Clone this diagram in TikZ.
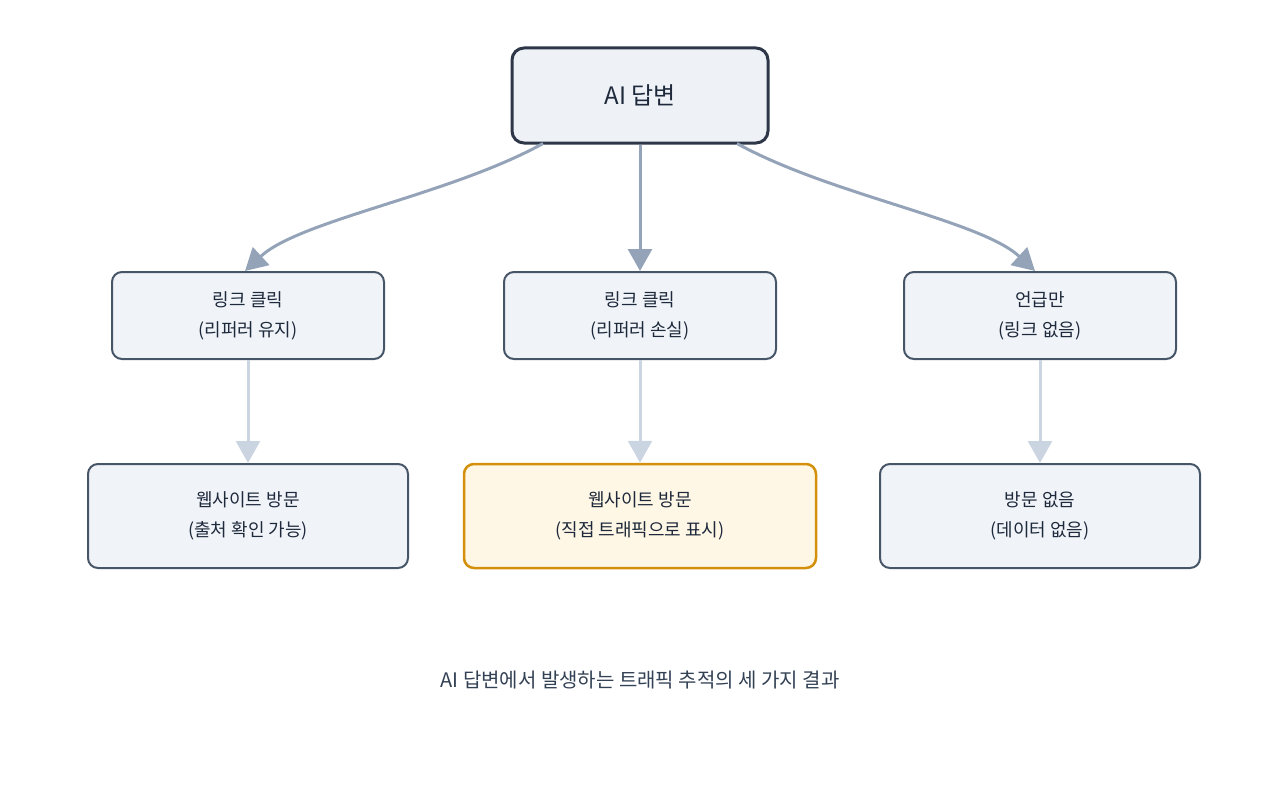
\documentclass[tikz,border=0pt]{standalone}
\usepackage{fontspec}
\setmainfont{Noto Sans CJK KR}
\usetikzlibrary{arrows.meta}
\definecolor{topfill}{HTML}{EEF2F7}
\definecolor{topdraw}{HTML}{2D3748}
\definecolor{boxfill}{HTML}{F0F4F9}
\definecolor{boxdraw}{HTML}{475569}
\definecolor{hlfill}{HTML}{FFF7E6}
\definecolor{hldraw}{HTML}{D4900A}
\definecolor{arr1}{HTML}{94A3B8}
\definecolor{arr2}{HTML}{CBD5E1}
\definecolor{txt}{HTML}{1E293B}
\definecolor{cap}{HTML}{334155}
\begin{document}
\begin{tikzpicture}[x=1pt,y=-1pt,
  box/.style={draw=boxdraw,fill=boxfill,line width=2pt,rounded corners=10pt,align=center,text=txt,font=\fontsize{18}{30}\selectfont,inner sep=0pt},
  hl/.style={box,draw=hldraw,fill=hlfill,line width=2.5pt},
  a1/.style={draw=arr1,line width=3pt,-{Triangle[length=22pt,width=24pt]}},
  a2/.style={draw=arr2,line width=3pt,-{Triangle[length=22pt,width=24pt]}}]
\useasboundingbox (0,0) rectangle (1280,800);
\node[box,draw=topdraw,fill=topfill,line width=3pt,rounded corners=12pt,minimum width=256pt,minimum height=95pt,font=\fontsize{24}{30}\selectfont] (top) at (640,95.5) {AI 답변};
\node[box,minimum width=272pt,minimum height=87pt] (m1) at (248,315.5) {링크 클릭\\(리퍼러 유지)};
\node[box,minimum width=272pt,minimum height=87pt] (m2) at (640,315.5) {링크 클릭\\(리퍼러 손실)};
\node[box,minimum width=272pt,minimum height=87pt] (m3) at (1040,315.5) {언급만\\(링크 없음)};
\node[box,minimum width=320pt,minimum height=104pt] (b1) at (248,516) {웹사이트 방문\\(출처 확인 가능)};
\node[hl,minimum width=352pt,minimum height=104pt] (b2) at (640,516) {웹사이트 방문\\(직접 트래픽으로 표시)};
\node[box,minimum width=320pt,minimum height=104pt] (b3) at (1040,516) {방문 없음\\(데이터 없음)};
\coordinate (t1) at (543,143.5);
\coordinate (t3) at (737,143.5);
\draw[a1] (t1) .. controls (450,195) and (300,220) .. (m1.north -| 245,0);
\draw[a1] (top) -- (m2);
\draw[a1] (t3) .. controls (830,195) and (980,220) .. (m3.north -| 1035,0);
\draw[a2] (m1) -- (b1);
\draw[a2] (m2) -- (b2);
\draw[a2] (m3) -- (b3);
\node[text=cap,font=\fontsize{20}{24}\selectfont] (caption) at (640,680) {AI 답변에서 발생하는 트래픽 추적의 세 가지 결과};
\end{tikzpicture}
\end{document}
